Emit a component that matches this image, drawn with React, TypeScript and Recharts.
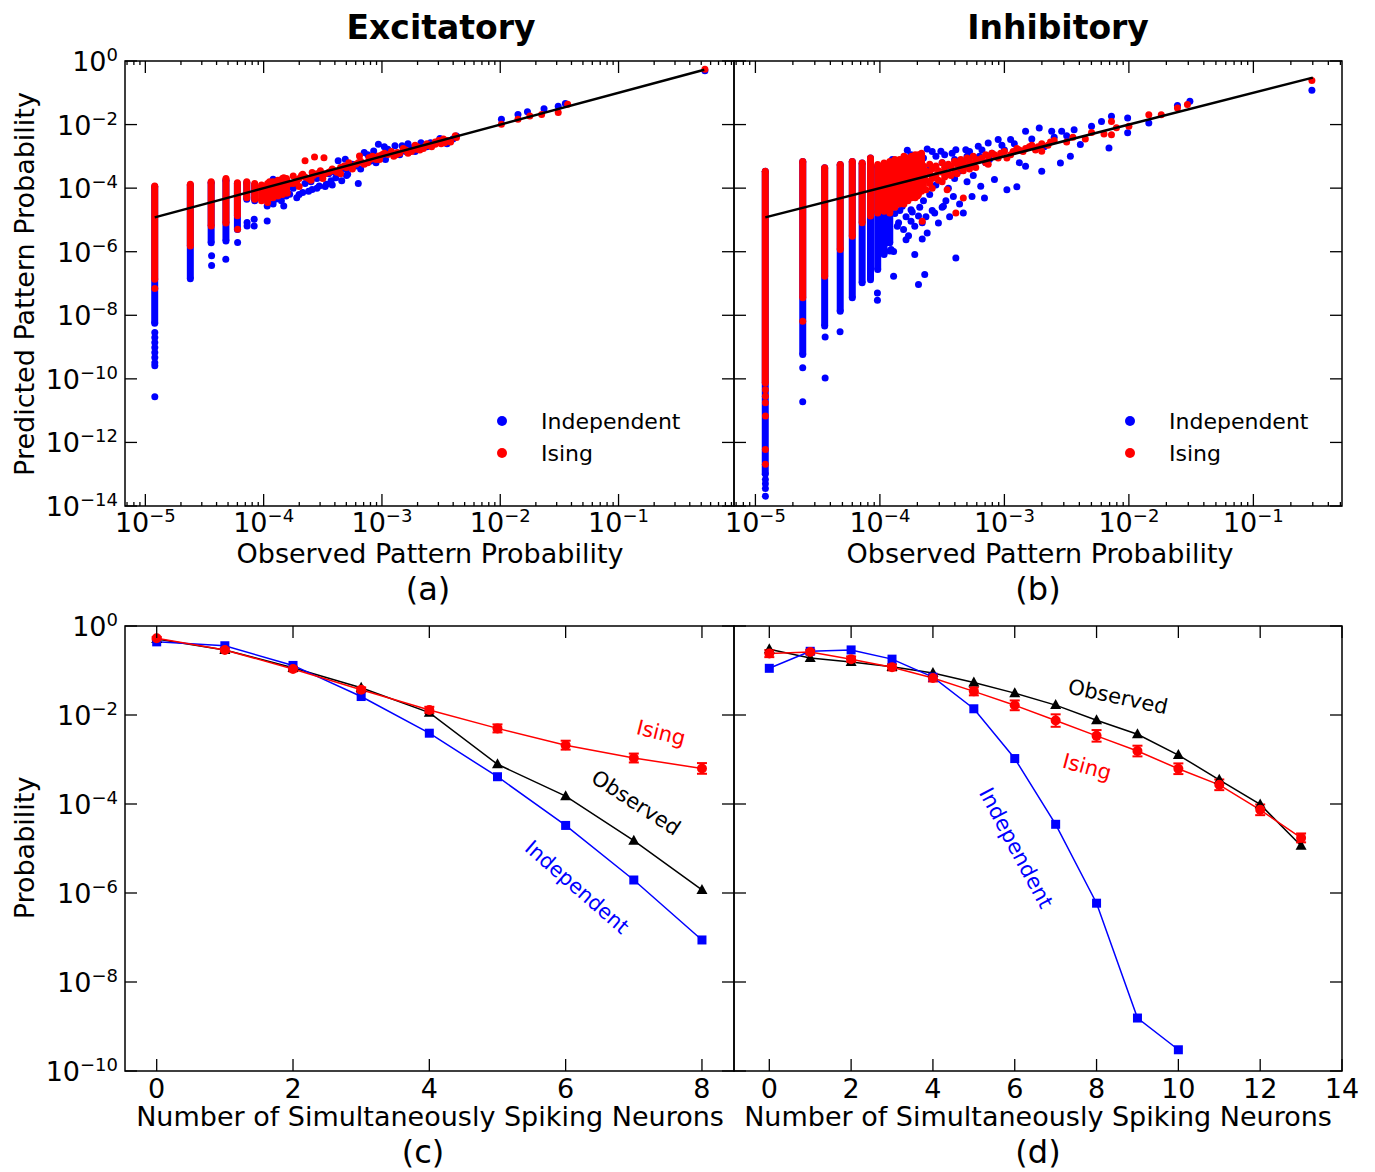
import React from 'react';
import {
  ScatterChart,
  Scatter,
  ComposedChart,
  Line,
  ErrorBar,
  XAxis,
  YAxis,
  ReferenceArea,
  Legend,
} from 'recharts';

const BLUE = '#0000ff';
const RED = '#ff0000';
const FONT = '"DejaVu Sans", sans-serif';

// ─── Top panels: predicted vs observed pattern probability ──────────────────
// Observed probabilities are multiples of the smallest one; the low levels form columns.
const observedLevels = [
  1.2e-5, 2.4e-5, 3.6e-5, 4.8e-5, 6.0e-5, 7.2e-5, 8.4e-5, 9.6e-5, 1.08e-4, 1.2e-4,
  1.32e-4, 1.44e-4, 1.56e-4, 1.68e-4, 1.8e-4, 1.92e-4, 2.04e-4, 2.16e-4,
];

// Dense runs of dots at each observed level: [top, bottom], log10 of predicted probability
const excIndepRuns = [[-3.95, -8.25], [-3.9, -6.85], [-3.82, -5.72], [-3.75, -5.66], [-3.85, -5.3], [-3.82, -4.35], [-3.9, -4.4]];
const excIsingRuns = [
  [-3.93, -6.87], [-3.88, -5.82], [-3.8, -5.19], [-3.7, -5.1], [-3.83, -4.87], [-3.8, -4.3], [-3.85, -4.35], [-3.9, -4.4],
  [-3.85, -4.45], [-3.8, -4.3], [-3.75, -4.25], [-3.7, -4.2], [-3.7, -4.15],
];
const inhIndepRuns = [[-3.47, -13.0], [-3.16, -9.23], [-3.36, -8.34], [-3.26, -7.87], [-3.16, -7.45], [-3.21, -6.98], [-3.05, -6.88], [-3.3, -6.56], [-3.25, -6.09], [-3.2, -5.72]];
const inhIsingRuns = [
  [-3.47, -10.13], [-3.16, -7.45], [-3.36, -6.77], [-3.26, -5.93], [-3.16, -5.51], [-3.21, -5.09], [-3.05, -4.88], [-3.26, -4.78],
  [-3.21, -4.73], [-3.16, -4.78], [-3.1, -4.6], [-3.1, -4.5], [-3.0, -4.5], [-3.05, -4.4], [-3.0, -4.3], [-2.95, -4.3],
  [-2.95, -4.2], [-2.9, -4.1],
];

// Single dots: [log10 observed, log10 predicted]
const excIndepDots = [
  [-4.92, -8.54], [-4.92, -8.7], [-4.92, -8.86], [-4.92, -9.01], [-4.92, -9.17], [-4.92, -9.33], [-4.92, -9.49], [-4.92, -9.59], [-4.92, -10.56],
  [-4.44, -6.13], [-4.44, -6.43], [-4.32, -6.24], [-4.22, -5.71], [-4.14, -5.08], [-4.14, -5.19], [-4.08, -4.98], [-4.08, -5.19],
  [-3.97, -5.03], [-3.97, -4.56], [-3.92, -4.5], [-3.83, -4.56],
  [-3.92, -3.72], [-3.87, -4.25], [-3.81, -4.25], [-3.78, -4.19], [-3.72, -4.3], [-3.67, -4.14], [-3.59, -4.04], [-3.53, -3.93],
  [-3.47, -3.88], [-3.43, -3.77], [-3.37, -3.14], [-3.31, -3.09], [-3.39, -3.67], [-3.34, -3.77], [-3.29, -3.56], [-3.2, -3.85],
  [-3.25, -3.25], [-3.15, -2.88], [-3.07, -2.83], [-3.03, -2.62], [-2.95, -2.78], [-2.89, -2.67], [-2.83, -2.67], [-2.75, -2.73],
  [-2.67, -2.57], [-2.59, -2.57], [-2.51, -2.44], [-2.37, -2.36], [-1.99, -1.83], [-1.85, -1.68], [-1.77, -1.6], [-1.63, -1.5],
  [-1.51, -1.42], [-1.45, -1.34], [-0.27, -0.31],
  [-3.75, -4.0], [-3.65, -3.85], [-3.6, -3.8], [-3.55, -3.7], [-3.5, -3.6], [-3.45, -3.55], [-3.4, -3.5], [-3.35, -3.45],
  [-3.3, -3.4], [-3.22, -3.3], [-3.1, -3.15], [-3.0, -3.05], [-2.9, -2.95], [-2.8, -2.85], [-2.7, -2.75], [-2.6, -2.65],
  [-2.5, -2.55], [-2.4, -2.45],
  [-3.9, -4.35], [-3.85, -4.4], [-3.7, -4.2], [-3.62, -4.1], [-3.55, -4.0], [-3.48, -3.95], [-3.42, -3.9], [-3.3, -3.6],
  [-3.18, -3.4], [-3.05, -3.2], [-2.97, -3.1], [-2.85, -2.95], [-2.72, -2.85], [-2.62, -2.7], [-2.45, -2.6], [-3.12, -2.95],
  [-2.98, -2.7], [-2.78, -2.6],
];
const excIsingDots = [
  [-4.92, -7.16], [-4.22, -5.29],
  [-3.65, -3.14], [-3.57, -3.02], [-3.49, -3.04], [-3.91, -3.93], [-3.83, -3.67], [-3.75, -3.62], [-3.67, -3.56], [-3.59, -3.51],
  [-3.51, -3.56], [-3.43, -3.46], [-3.35, -3.35], [-3.27, -3.3], [-3.19, -2.99], [-3.11, -3.04], [-3.03, -2.99], [-2.95, -2.94],
  [-2.87, -2.88], [-2.79, -2.83], [-2.71, -2.78], [-2.63, -2.67], [-2.55, -2.62], [-2.47, -2.57], [-2.37, -2.41], [-1.99, -1.99],
  [-1.85, -1.83], [-1.75, -1.73], [-1.65, -1.68], [-1.51, -1.62], [-1.43, -1.36], [-0.27, -0.26],
  [-3.95, -3.8], [-3.95, -4.1], [-3.9, -4.2], [-3.85, -4.0], [-3.8, -3.9], [-3.8, -4.15], [-3.75, -3.85], [-3.7, -3.7],
  [-3.7, -3.95], [-3.65, -3.65], [-3.6, -3.75], [-3.55, -3.55], [-3.5, -3.7], [-3.45, -3.5], [-3.4, -3.45], [-3.35, -3.55],
  [-3.3, -3.35], [-3.25, -3.4], [-3.2, -3.2], [-3.15, -3.25], [-3.1, -3.1], [-3.05, -3.1], [-3.0, -2.95], [-2.9, -3.0],
  [-2.85, -2.9], [-2.8, -2.8], [-2.75, -2.85], [-2.7, -2.7], [-2.65, -2.75], [-2.6, -2.65], [-2.55, -2.55], [-2.5, -2.6],
  [-2.45, -2.5],
  [-3.92, -3.85], [-3.88, -3.95], [-3.82, -3.75], [-3.78, -3.85], [-3.72, -3.8], [-3.68, -3.6], [-3.62, -3.7], [-3.58, -3.6],
  [-3.52, -3.45], [-3.48, -3.55], [-3.42, -3.4], [-3.38, -3.5], [-3.32, -3.3], [-3.28, -3.2], [-3.22, -3.25], [-3.18, -3.15],
  [-3.12, -3.2], [-3.08, -3.0], [-3.02, -3.1], [-2.98, -2.9], [-2.92, -2.85], [-2.88, -2.95], [-2.82, -2.75], [-2.78, -2.9],
  [-2.72, -2.65], [-2.68, -2.8], [-2.62, -2.6], [-2.58, -2.7], [-2.52, -2.5], [-2.48, -2.45], [-2.42, -2.55], [-2.38, -2.35],
];
const inhIndepDots = [
  [-4.92, -13.17], [-4.92, -13.3], [-4.92, -13.45], [-4.92, -13.69], [-4.62, -9.65], [-4.62, -10.72], [-4.44, -8.68], [-4.44, -9.97],
  [-4.32, -8.52], [-4.02, -7.3], [-4.02, -7.53], [-3.92, -5.98],
  [-3.78, -2.81], [-3.62, -2.77], [-3.51, -2.84], [-3.39, -2.79], [-3.31, -2.79], [-3.21, -2.68], [-3.13, -2.58], [-3.05, -2.47],
  [-2.95, -2.47], [-2.83, -2.21], [-2.72, -2.11], [-2.62, -2.21], [-2.54, -2.21], [-2.44, -2.16], [-2.3, -2.05], [-2.22, -1.9],
  [-2.14, -1.74], [-2.01, -1.79], [-2.01, -2.26], [-1.84, -1.95], [-1.61, -1.4], [-1.51, -1.27], [-0.53, -0.92],
  [-3.89, -4.26], [-3.82, -4.57], [-3.75, -4.68], [-3.69, -4.88], [-3.62, -5.41], [-3.56, -4.78], [-3.49, -4.57], [-3.41, -4.26],
  [-3.33, -4.78], [-3.26, -4.26], [-3.19, -3.94], [-3.16, -4.31], [-3.08, -3.73], [-2.98, -4.05], [-2.9, -3.96], [-2.83, -3.31],
  [-2.7, -3.47], [-2.55, -3.21], [-2.47, -3.0], [-2.39, -2.63], [-2.16, -2.74], [-3.95, -5.72], [-3.89, -5.99], [-3.79, -5.62],
  [-3.72, -6.09], [-3.64, -6.72], [-3.69, -7.03], [-3.39, -6.2], [-3.89, -6.77], [-3.85, -5.09], [-3.75, -5.04], [-3.66, -5.09],
  [-3.95, -5.36], [-3.91, -5.93],
  [-3.85, -3.6], [-3.7, -3.5], [-3.6, -3.3], [-3.5, -3.2], [-3.4, -3.1], [-3.3, -3.0], [-3.2, -3.0], [-3.1, -2.9], [-3.0, -2.8],
  [-3.8, -3.2], [-3.7, -3.0], [-3.55, -3.0], [-3.45, -3.3], [-3.35, -3.45], [-3.25, -3.6], [-3.15, -3.2], [-3.7, -4.0],
  [-3.6, -4.2], [-3.55, -3.9], [-3.45, -4.0], [-3.3, -3.8], [-3.8, -4.3], [-3.65, -4.4], [-3.5, -4.6], [-3.4, -3.7], [-3.85, -4.0],
  [-3.88, -4.8], [-3.86, -5.2], [-3.84, -4.7], [-3.81, -5.3], [-3.79, -4.9], [-3.77, -5.5], [-3.74, -4.75], [-3.72, -5.2],
  [-3.68, -4.6], [-3.66, -5.6], [-3.63, -4.9], [-3.58, -4.7], [-3.53, -5.1], [-3.47, -4.4], [-3.44, -4.9], [-3.36, -4.5],
  [-3.9, -3.1], [-3.75, -2.95], [-3.65, -3.05], [-3.58, -2.85], [-3.48, -2.95], [-3.42, -2.9], [-3.28, -2.85], [-3.18, -2.8],
  [-3.12, -3.1], [-3.02, -2.65], [-2.92, -2.6], [-2.88, -3.2], [-2.78, -2.45], [-2.68, -2.7], [-2.6, -2.4], [-2.5, -2.35],
];
const inhIsingDots = [
  [-4.92, -10.34], [-4.92, -10.55], [-4.92, -10.75], [-4.92, -11.17], [-4.92, -12.22], [-4.92, -12.69], [-4.62, -8.19],
  [-3.46, -4.05], [-3.33, -4.31], [-3.66, -5.04], [-3.39, -4.78], [-2.7, -2.84], [-2.14, -2.32], [-2.14, -1.9], [-1.84, -1.69],
  [-1.74, -1.69], [-1.61, -1.48], [-1.53, -1.37], [-0.53, -0.61],
  [-3.95, -3.6], [-3.95, -3.9], [-3.95, -4.2], [-3.9, -3.5], [-3.9, -3.8], [-3.9, -4.1], [-3.85, -3.45], [-3.85, -3.75],
  [-3.85, -4.05], [-3.85, -4.35], [-3.8, -3.5], [-3.8, -3.8], [-3.8, -4.1], [-3.75, -3.4], [-3.75, -3.7], [-3.75, -4.0],
  [-3.7, -3.35], [-3.7, -3.65], [-3.7, -3.95], [-3.7, -4.25], [-3.65, -3.3], [-3.65, -3.6], [-3.65, -3.9], [-3.6, -3.25],
  [-3.6, -3.55], [-3.6, -3.85], [-3.55, -3.3], [-3.55, -3.6], [-3.5, -3.2], [-3.5, -3.5], [-3.5, -3.8], [-3.45, -3.25],
  [-3.45, -3.55], [-3.4, -3.15], [-3.4, -3.45], [-3.35, -3.1], [-3.35, -3.35], [-3.3, -3.05], [-3.3, -3.3], [-3.25, -3.0],
  [-3.25, -3.25], [-3.2, -3.1], [-3.15, -2.95], [-3.15, -3.2], [-3.1, -2.9], [-3.05, -3.05], [-3.0, -2.85], [-2.95, -2.95],
  [-2.9, -2.75], [-2.85, -2.85], [-2.8, -2.7], [-2.75, -2.8], [-2.7, -2.6], [-2.65, -2.65], [-2.6, -2.5], [-2.5, -2.55],
  [-2.45, -2.4], [-2.35, -2.45], [-2.3, -2.25], [-2.2, -2.3], [-2.1, -2.1], [-2.0, -2.05],
  [-3.63, -3.45], [-3.63, -3.75], [-3.63, -4.05], [-3.58, -3.4], [-3.58, -3.7], [-3.58, -4.0], [-3.53, -3.45], [-3.53, -3.75],
  [-3.48, -3.35], [-3.48, -3.65], [-3.43, -3.3], [-3.43, -3.6], [-3.38, -3.25], [-3.38, -3.55], [-3.33, -3.2], [-3.33, -3.45],
  [-3.28, -3.15], [-3.28, -3.4], [-3.23, -3.1], [-3.23, -3.35], [-3.18, -3.05], [-3.13, -3.0], [-3.13, -3.25], [-3.08, -2.95],
  [-3.03, -2.9], [-2.98, -3.05], [-2.93, -2.85], [-2.88, -2.8], [-2.83, -2.75], [-2.78, -2.65], [-2.73, -2.7], [-2.63, -2.55],
];

// y = x reference line, from smallest to largest observed probability
const excDiag = [1.2e-5, 0.53];
const inhDiag = [1.2e-5, 0.3];

// ─── Bottom panels: distribution of simultaneously spiking neurons ─────────
const excCounts = [0, 1, 2, 3, 4, 5, 6, 7, 8];
const excObserved = [0.51, 0.29, 0.115, 0.041, 0.0113, 7.8e-4, 1.5e-4, 1.5e-5, 1.17e-6];
const excIndependent = [0.44, 0.36, 0.13, 0.026, 0.0039, 4.1e-4, 3.3e-5, 1.96e-6, 8.8e-8];
const excIsing = [0.53, 0.29, 0.108, 0.037, 0.013, 0.005, 0.0021, 0.00108, 6.3e-4];
const excIsingErrDec = [0.03, 0.04, 0.05, 0.05, 0.07, 0.09, 0.1, 0.1, 0.12];

const inhCounts = [0, 1, 2, 3, 4, 5, 6, 7, 8, 9, 10, 11, 12, 13];
const inhObserved = [0.3, 0.19, 0.155, 0.122, 0.088, 0.054, 0.031, 0.0167, 0.0076, 0.0037, 0.00126, 3.5e-4, 9.8e-5, 1.15e-5];
const inhIndependent = [0.112, 0.27, 0.29, 0.18, 0.071, 0.0138, 0.00105, 3.5e-5, 5.9e-7, 1.55e-9, 3.0e-10, null, null, null];
const inhIsing = [0.24, 0.26, 0.18, 0.118, 0.068, 0.034, 0.0165, 0.0075, 0.0034, 0.00155, 6.2e-4, 2.7e-4, 7.4e-5, 1.73e-5];
const inhIsingErrDec = [0.08, 0.05, 0.06, 0.07, 0.08, 0.09, 0.11, 0.14, 0.13, 0.12, 0.12, 0.12, 0.12, 0.1];

const topYTicks = [1, 1e-2, 1e-4, 1e-6, 1e-8, 1e-10, 1e-12, 1e-14];
const bottomYTicks = [1, 1e-2, 1e-4, 1e-6, 1e-8, 1e-10];
const logXMajor = [1e-5, 1e-4, 1e-3, 1e-2, 1e-1];
const excXTicksLin = [0, 2, 4, 6, 8];
const inhXTicksLin = [0, 2, 4, 6, 8, 10, 12, 14];

const excXDomain = [6.73e-6, 0.946];
const inhXDomain = [6.73e-6, 0.515];

// ─── helpers ──────────────────────────────────────────────────────────────────

type Frame = { l: number; r: number; t: number; b: number };

const FA: Frame = { l: 125, r: 734, t: 61, b: 506 };
const FB: Frame = { l: 20, r: 628, t: 61, b: 506 };
const FC: Frame = { l: 125, r: 734, t: 26, b: 471 };
const FD: Frame = { l: 20, r: 628, t: 26, b: 471 };

const toPts = (a: number[][]) => a.map(([x, y]) => ({ x: 10 ** x, y: 10 ** y }));
const toRuns = (runs: number[][]) =>
  runs.map(([top, bottom], i) => [
    { x: observedLevels[i], y: 10 ** top },
    { x: observedLevels[i], y: 10 ** bottom },
  ]);
const diagPts = (d: number[]) => d.map(v => ({ x: v, y: v }));

const logTicksFor = (domain: number[]) => {
  const minor = [-6, -5, -4, -3, -2, -1].flatMap(d => [2, 3, 4, 5, 6, 7, 8, 9].map(m => m * 10 ** d));
  return [...logXMajor, ...minor].filter(v => v >= domain[0] && v <= domain[1]).sort((a, b) => a - b);
};

const expText = (v: number) => {
  const e = Math.round(Math.log10(v));
  return e < 0 ? `\u2212${-e}` : `${e}`;
};

const buildRows = (counts: number[], obs: number[], ind: (number | null)[], ising: number[], errDec: number[]) =>
  counts.map((n, i) => ({
    n,
    obs: obs[i],
    ind: ind[i],
    ising: ising[i],
    isingErr: [ising[i] - ising[i] / 10 ** errDec[i], ising[i] * 10 ** errDec[i] - ising[i]],
  }));

const excRows = buildRows(excCounts, excObserved, excIndependent, excIsing, excIsingErrDec);
const inhRows = buildRows(inhCounts, inhObserved, inhIndependent, inhIsing, inhIsingErrDec);

// ─── ticks ────────────────────────────────────────────────────────────────────

function LogXTick(props: any) {
  const { x, payload, frame } = props;
  const v = payload.value;
  const e = Math.log10(v);
  const major = Math.abs(e - Math.round(e)) < 1e-6;
  const len = major ? 12 : 4;
  return (
    <g>
      <line x1={x} x2={x} y1={frame.b} y2={frame.b - len} stroke="#000" strokeWidth={1.3} />
      <line x1={x} x2={x} y1={frame.t} y2={frame.t + len} stroke="#000" strokeWidth={1.3} />
      {major && (
        <text x={x} y={frame.b + 26} textAnchor="middle" fontFamily={FONT} fontSize={27} fill="#000">
          10<tspan dy={-10} fontSize={18}>{expText(v)}</tspan>
        </text>
      )}
    </g>
  );
}

function LinXTick(props: any) {
  const { x, payload, frame } = props;
  return (
    <g>
      <line x1={x} x2={x} y1={frame.b} y2={frame.b - 12} stroke="#000" strokeWidth={1.3} />
      <line x1={x} x2={x} y1={frame.t} y2={frame.t + 12} stroke="#000" strokeWidth={1.3} />
      <text x={x} y={frame.b + 27} textAnchor="middle" fontFamily={FONT} fontSize={27} fill="#000">
        {payload.value}
      </text>
    </g>
  );
}

function LogYTick(props: any) {
  const { y, payload, frame, labels } = props;
  return (
    <g>
      <line x1={frame.l} x2={frame.l + 12} y1={y} y2={y} stroke="#000" strokeWidth={1.3} />
      <line x1={frame.r} x2={frame.r - 12} y1={y} y2={y} stroke="#000" strokeWidth={1.3} />
      {labels && (
        <text x={frame.l - 7} y={y + 10} textAnchor="end" fontFamily={FONT} fontSize={27} fill="#000">
          10<tspan dy={-10} fontSize={18}>{expText(payload.value)}</tspan>
        </text>
      )}
    </g>
  );
}

const dotShape = (color: string, r: number) => (p: any) => <circle cx={p.cx} cy={p.cy} r={r} fill={color} />;

function ScatterLegend() {
  return (
    <svg width={200} height={70}>
      <circle cx={12} cy={21} r={5} fill={BLUE} />
      <text x={51} y={28.5} fontFamily={FONT} fontSize={22} fill="#000">Independent</text>
      <circle cx={12} cy={53} r={5} fill={RED} />
      <text x={51} y={60.5} fontFamily={FONT} fontSize={22} fill="#000">Ising</text>
    </svg>
  );
}

// ─── panels ───────────────────────────────────────────────────────────────────

interface ScatterPanelProps {
  frame: Frame;
  width: number;
  height: number;
  xDomain: number[];
  indepRuns: number[][];
  indepDots: number[][];
  isingRuns: number[][];
  isingDots: number[][];
  diag: number[];
  legendLeft: number;
  yLabels: boolean;
}

function ScatterPanel({ frame, width, height, xDomain, indepRuns, indepDots, isingRuns, isingDots, diag, legendLeft, yLabels }: ScatterPanelProps) {
  return (
    <ScatterChart width={width} height={height} margin={{ top: frame.t, right: width - frame.r, bottom: 0, left: 0 }}>
      <XAxis
        type="number"
        dataKey="x"
        scale="log"
        domain={xDomain}
        allowDataOverflow
        ticks={logTicksFor(xDomain)}
        interval={0}
        tickLine={false}
        axisLine={false}
        tickSize={0}
        tickMargin={0}
        height={height - frame.b}
        tick={(p: any) => <LogXTick {...p} frame={frame} />}
      />
      <YAxis
        type="number"
        dataKey="y"
        scale="log"
        domain={[1e-14, 1]}
        allowDataOverflow
        ticks={topYTicks}
        interval={0}
        tickLine={false}
        axisLine={false}
        tickSize={0}
        tickMargin={0}
        width={frame.l}
        tick={(p: any) => <LogYTick {...p} frame={frame} labels={yLabels} />}
      />
      <ReferenceArea x1={xDomain[0]} x2={xDomain[1]} y1={1e-14} y2={1} fill="none" stroke="#000" strokeWidth={1.5} ifOverflow="visible" />
      {toRuns(indepRuns).map((run, i) => (
        <Scatter key={`ir${i}`} data={run} fill={BLUE} line={{ stroke: BLUE, strokeWidth: 7 }} shape={dotShape(BLUE, 3.5)} isAnimationActive={false} />
      ))}
      <Scatter data={toPts(indepDots)} fill={BLUE} shape={dotShape(BLUE, 3.5)} isAnimationActive={false} />
      {toRuns(isingRuns).map((run, i) => (
        <Scatter key={`sr${i}`} data={run} fill={RED} line={{ stroke: RED, strokeWidth: 7 }} shape={dotShape(RED, 3.5)} isAnimationActive={false} />
      ))}
      <Scatter data={toPts(isingDots)} fill={RED} shape={dotShape(RED, 3.5)} isAnimationActive={false} />
      <Scatter data={diagPts(diag)} fill="#000" line={{ stroke: '#000', strokeWidth: 2.5 }} shape={() => <g />} isAnimationActive={false} />
      <Legend
        layout="vertical"
        align="center"
        verticalAlign="middle"
        wrapperStyle={{ left: legendLeft, top: 400, width: 200, height: 70 }}
        content={() => <ScatterLegend />}
      />
    </ScatterChart>
  );
}

const triangleDot = (p: any) =>
  p.cy == null ? <g key={p.key} /> : (
    <path key={p.key} d={`M${p.cx},${p.cy - 6}L${p.cx + 5.5},${p.cy + 4}L${p.cx - 5.5},${p.cy + 4}Z`} fill="#000" />
  );
const squareDot = (p: any) =>
  p.cy == null ? <g key={p.key} /> : <rect key={p.key} x={p.cx - 4.5} y={p.cy - 4.5} width={9} height={9} fill={BLUE} />;
const circleDot = (p: any) =>
  p.cy == null ? <g key={p.key} /> : <circle key={p.key} cx={p.cx} cy={p.cy} r={5} fill={RED} />;

interface LinePanelProps {
  frame: Frame;
  width: number;
  height: number;
  data: any[];
  xDomain: number[];
  xTicks: number[];
  yLabels: boolean;
}

function LinePanel({ frame, width, height, data, xDomain, xTicks, yLabels }: LinePanelProps) {
  return (
    <ComposedChart width={width} height={height} data={data} margin={{ top: frame.t, right: width - frame.r, bottom: 0, left: 0 }}>
      <XAxis
        type="number"
        dataKey="n"
        domain={xDomain}
        allowDataOverflow
        ticks={xTicks}
        interval={0}
        tickLine={false}
        axisLine={false}
        tickSize={0}
        tickMargin={0}
        height={height - frame.b}
        tick={(p: any) => <LinXTick {...p} frame={frame} />}
      />
      <YAxis
        type="number"
        scale="log"
        domain={[1e-10, 1]}
        allowDataOverflow
        ticks={bottomYTicks}
        interval={0}
        tickLine={false}
        axisLine={false}
        tickSize={0}
        tickMargin={0}
        width={frame.l}
        tick={(p: any) => <LogYTick {...p} frame={frame} labels={yLabels} />}
      />
      <ReferenceArea x1={xDomain[0]} x2={xDomain[1]} y1={1e-10} y2={1} fill="none" stroke="#000" strokeWidth={1.5} ifOverflow="visible" />
      <Line dataKey="obs" stroke="#000" strokeWidth={1.5} dot={triangleDot} activeDot={false} isAnimationActive={false} />
      <Line dataKey="ind" stroke={BLUE} strokeWidth={1.5} dot={squareDot} activeDot={false} isAnimationActive={false} />
      <Line dataKey="ising" stroke={RED} strokeWidth={1.5} dot={circleDot} activeDot={false} isAnimationActive={false}>
        <ErrorBar dataKey="isingErr" stroke={RED} strokeWidth={2} width={5} direction="y" isAnimationActive={false} />
      </Line>
    </ComposedChart>
  );
}

// ─── texts ────────────────────────────────────────────────────────────────────

const txt = { fontFamily: FONT, fill: '#000' };

function Rot({ x, y, angle, color, size, children }: { x: number; y: number; angle: number; color: string; size: number; children: string }) {
  return (
    <text x={x} y={y} transform={`rotate(${angle},${x},${y})`} textAnchor="middle" dominantBaseline="central" fontFamily={FONT} fontSize={size} fill={color}>
      {children}
    </text>
  );
}

function Overlay() {
  return (
    <svg width={1375} height={1172} style={{ position: 'absolute', left: 0, top: 0, pointerEvents: 'none' }}>
      <text x={441} y={38.5} textAnchor="middle" fontSize={33} fontWeight="bold" {...txt}>Excitatory</text>
      <text x={1058} y={38.5} textAnchor="middle" fontSize={33} fontWeight="bold" {...txt}>Inhibitory</text>

      <text transform="translate(33.5,284) rotate(-90)" textAnchor="middle" fontSize={27} {...txt}>Predicted Pattern Probability</text>
      <text transform="translate(33.5,848) rotate(-90)" textAnchor="middle" fontSize={27} {...txt}>Probability</text>

      <text x={430} y={563} textAnchor="middle" fontSize={27} {...txt}>Observed Pattern Probability</text>
      <text x={1040} y={563} textAnchor="middle" fontSize={27} {...txt}>Observed Pattern Probability</text>
      <text x={428} y={600} textAnchor="middle" fontSize={32} {...txt}>(a)</text>
      <text x={1038} y={600} textAnchor="middle" fontSize={32} {...txt}>(b)</text>

      <text x={430} y={1126} textAnchor="middle" fontSize={27} {...txt}>Number of Simultaneously Spiking Neurons</text>
      <text x={1038} y={1126} textAnchor="middle" fontSize={27} {...txt}>Number of Simultaneously Spiking Neurons</text>
      <text x={423} y={1163} textAnchor="middle" fontSize={32} {...txt}>(c)</text>
      <text x={1038} y={1163} textAnchor="middle" fontSize={32} {...txt}>(d)</text>

      <Rot x={661} y={733} angle={14} color={RED} size={21}>Ising</Rot>
      <Rot x={636} y={803} angle={33} color="#000" size={21}>Observed</Rot>
      <Rot x={577} y={887} angle={41} color={BLUE} size={20.5}>Independent</Rot>

      <Rot x={1118} y={697} angle={12} color="#000" size={21}>Observed</Rot>
      <Rot x={1087} y={767} angle={15} color={RED} size={21}>Ising</Rot>
      <Rot x={1016} y={848} angle={62} color={BLUE} size={21}>Independent</Rot>
    </svg>
  );
}

// ─── main ─────────────────────────────────────────────────────────────────────

export default function App() {
  return (
    <div style={{ position: 'absolute', left: 0, top: 0, width: 1375, height: 1172, background: '#fff', overflow: 'hidden' }}>
      <div style={{ position: 'absolute', left: 0, top: 0 }}>
        <ScatterPanel frame={FA} width={740} height={540} xDomain={excXDomain} indepRuns={excIndepRuns} indepDots={excIndepDots}
          isingRuns={excIsingRuns} isingDots={excIsingDots} diag={excDiag} legendLeft={490} yLabels />
      </div>
      <div style={{ position: 'absolute', left: 714, top: 0 }}>
        <ScatterPanel frame={FB} width={661} height={540} xDomain={inhXDomain} indepRuns={inhIndepRuns} indepDots={inhIndepDots}
          isingRuns={inhIsingRuns} isingDots={inhIsingDots} diag={inhDiag} legendLeft={404} yLabels={false} />
      </div>
      <div style={{ position: 'absolute', left: 0, top: 600 }}>
        <LinePanel frame={FC} width={740} height={505} data={excRows} xDomain={[-0.465, 8.47]} xTicks={excXTicksLin} yLabels />
      </div>
      <div style={{ position: 'absolute', left: 714, top: 600 }}>
        <LinePanel frame={FD} width={661} height={505} data={inhRows} xDomain={[-0.863, 14]} xTicks={inhXTicksLin} yLabels={false} />
      </div>
      <Overlay />
    </div>
  );
}
